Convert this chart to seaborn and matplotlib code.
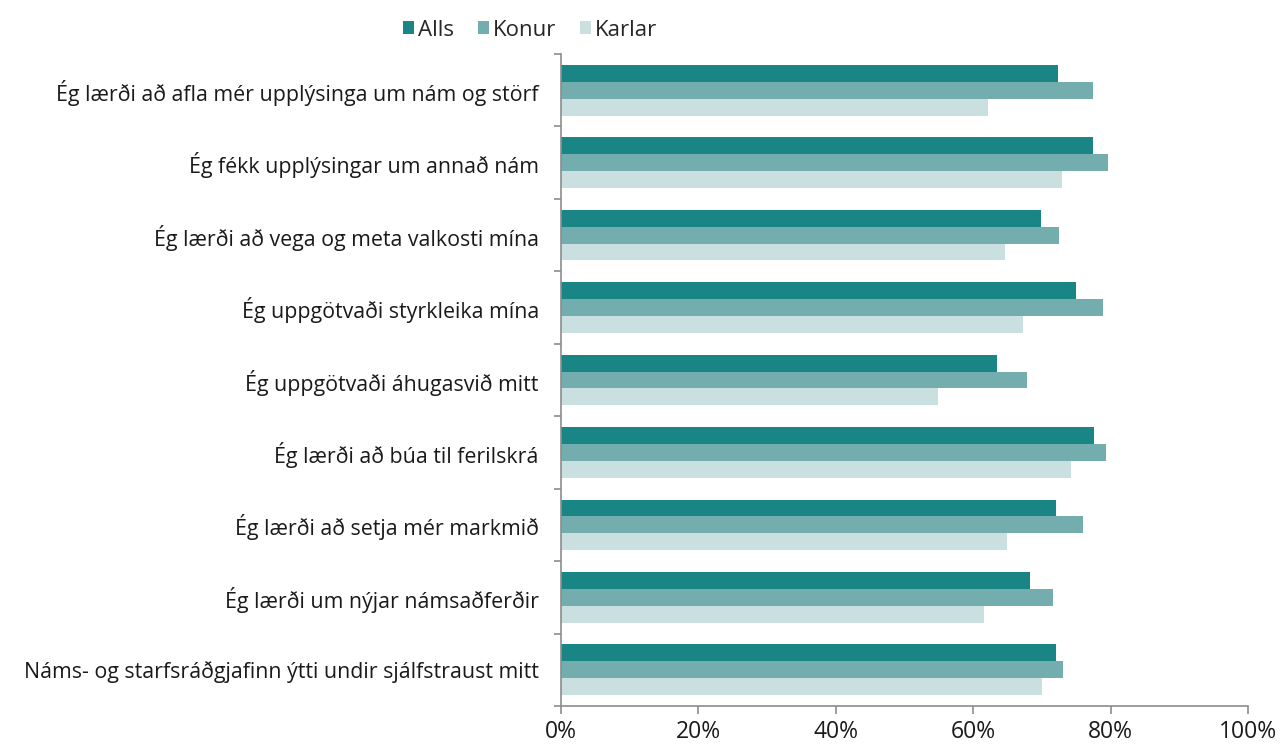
import matplotlib
matplotlib.use("Agg")
import matplotlib.pyplot as plt
import seaborn as sns
import pandas as pd
import numpy as np
from matplotlib.ticker import FixedLocator, PercentFormatter

categories = [
    "Ég lærði að afla mér upplýsinga um nám og störf",
    "Ég fékk upplýsingar um annað nám",
    "Ég lærði að vega og meta valkosti mína",
    "Ég uppgötvaði styrkleika mína",
    "Ég uppgötvaði áhugasvið mitt",
    "Ég lærði að búa til ferilskrá",
    "Ég lærði að setja mér markmið",
    "Ég lærði um nýjar námsaðferðir",
    "Náms- og starfsráðgjafinn ýtti undir sjálfstraust mitt",
]
series_names = ["Alls", "Konur", "Karlar"]
alls = [72.4, 77.5, 69.8, 75.0, 63.5, 77.6, 72.0, 68.2, 72.1]
konur = [77.4, 79.6, 72.5, 78.9, 67.8, 79.3, 76.0, 71.6, 73.0]
karlar = [62.1, 72.9, 64.7, 67.3, 54.9, 74.2, 64.9, 61.5, 70.0]
colors = ["#1a8585", "#74adad", "#c9dfe0"]
xticks = [0, 20, 40, 60, 80, 100]

rows = []
for name, vals in zip(series_names, [alls, konur, karlar]):
    for c, v in zip(categories, vals):
        rows.append({"cat": c, "series": name, "value": v})
df = pd.DataFrame(rows)

sns.set_style("white")
plt.rcParams['font.family'] = ['Open Sans', 'DejaVu Sans']

fig = plt.figure(figsize=(12.87, 7.49), dpi=100)
ax = fig.add_axes([561/1287, 1-706/749, (1248-561)/1287, (706-54)/749])

sns.barplot(data=df, y="cat", x="value", hue="series", order=categories,
            hue_order=series_names, palette=colors, width=0.7, orient="h",
            saturation=1, ax=ax, legend=True, linewidth=0)

ax.set_xlim(0, 100)
ax.set_ylim(len(categories) - 0.5, -0.5)
ax.set_xticks(xticks)
ax.xaxis.set_major_formatter(PercentFormatter(decimals=0))
ax.set_xlabel("")
ax.set_ylabel("")

for s in ["top", "right"]:
    ax.spines[s].set_visible(False)
for s in ["left", "bottom"]:
    ax.spines[s].set_color("#8c8c8c")
    ax.spines[s].set_linewidth(1.2)

ax.tick_params(axis="x", which="major", length=6, width=1.2, color="#8c8c8c",
               labelsize=16.5, labelcolor="#1a1a1a", pad=4, direction="out", bottom=True)
ax.tick_params(axis="y", which="major", length=0, labelsize=15.4, labelcolor="#1a1a1a", pad=16)
ax.yaxis.set_minor_locator(FixedLocator(np.arange(-0.5, len(categories), 1.0)))
ax.tick_params(axis="y", which="minor", length=5, width=1.2, color="#8c8c8c", left=True, direction="out")

handles, labels = ax.get_legend_handles_labels()
leg = ax.legend(handles, labels, loc="lower center", bbox_to_anchor=(-0.045, 1.0),
                ncol=3, frameon=False, fontsize=16, handlelength=0.5, handleheight=0.5,
                handletextpad=0.15, columnspacing=1.1, borderaxespad=0.2)

fig.savefig("out.png", dpi=100)
